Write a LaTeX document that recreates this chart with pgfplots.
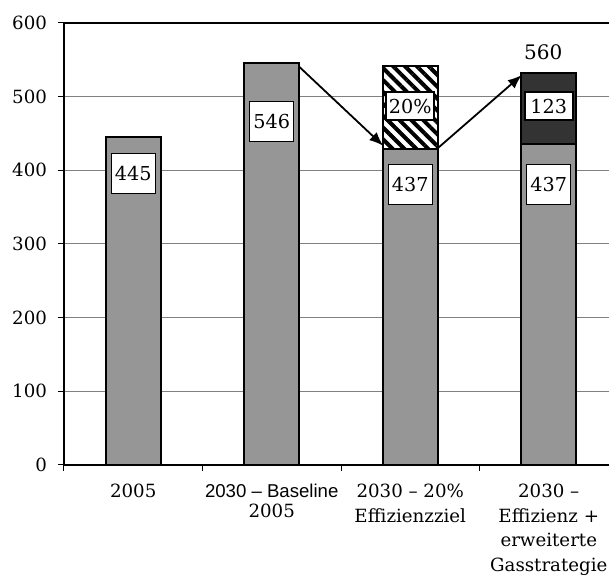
\documentclass[border=0pt]{standalone}
\usepackage{fontspec}
\setmainfont{DejaVu Serif}
\newfontfamily\arialf{Liberation Sans}
\usepackage{pgfplots}
\pgfplotsset{compat=1.18}
\usetikzlibrary{patterns.meta,arrows.meta}

\definecolor{barGrey}{HTML}{969696}
\definecolor{barDark}{HTML}{333333}
\definecolor{gridGrey}{HTML}{808080}

\begin{document}
\begin{tikzpicture}[
    lbl/.style={fill=white, draw=black, line width=0.5pt, inner sep=0pt,
        minimum width=22pt, minimum height=20pt, font=\fontsize{9.6}{11}\selectfont},
    lblb/.style={fill=white, draw=black, line width=1pt, inner sep=0pt,
        minimum width=24pt, minimum height=14pt, font=\fontsize{9.6}{11}\selectfont},
    arr/.style={-{Latex[length=7pt,width=5.5pt]}, line width=0.9pt},
]
\begin{axis}[
    name=ax,
    scale only axis,
    width=272.5pt, height=221pt,
    xmin=-0.5, xmax=3.435, ymin=0, ymax=600,
    axis x line=box, axis y line=left,
    axis line style={-, line width=1pt},
    xtick pos=bottom,
    tick align=outside,
    major tick length=3pt, minor tick length=3pt,
    ytick={0,100,...,600},
    ymajorgrids,
    grid style={gridGrey, line width=0.5pt},
    xtick={0,1,2,3},
    major x tick style={draw=none},
    minor xtick={-0.5,0.5,1.5,2.5},
    minor x tick style={black, line width=0.5pt},
    major y tick style={black, line width=0.5pt},
    xticklabels={
        {2005},
        {{\arialf\fontsize{9.3}{10}\selectfont 2030 – Baseline\\[-2.3pt]2005}},
        {2030 – 20\%\\Effizienzziel},
        {2030 –\\Effizienz +\\erweiterte\\Gasstrategie}},
    xticklabel style={align=center, font=\fontsize{9.1}{12.3}\selectfont, yshift=-3.2pt},
    yticklabel style={font=\fontsize{9.1}{11}\selectfont, xshift=-2pt},
    /pgf/number format/assume math mode=true,
]
% hatched top segment (20%) and dark top segment (123)
\addplot[ybar, bar width=0.4, bar shift=0pt, fill=white, draw=none] coordinates {(2,541)};
\addplot[ybar, bar width=0.4, bar shift=0pt, draw=black, line width=1pt,
    pattern={Lines[angle=-45, distance=4.2pt, line width=2pt]}, pattern color=black]
    coordinates {(2,541)};
\addplot[ybar, bar width=0.4, bar shift=0pt, fill=barDark, draw=black, line width=1pt]
    coordinates {(3,532)};
% base bars
\addplot[ybar, bar width=0.4, bar shift=0pt, fill=barGrey, draw=black, line width=1pt]
    coordinates {(0,445) (1,546) (2,428) (3,435)};

\draw[arr] (axis cs:1.2,540) -- (axis cs:1.805,433);
\draw[arr] (axis cs:2.2,430) -- (axis cs:2.805,529);

\node[lbl] at (axis cs:0,395) {445};
\node[lbl] at (axis cs:1,466) {546};
\node[lbl] at (axis cs:2,380) {437};
\node[lbl] at (axis cs:3,380) {437};
\node[lblb] at (axis cs:2,487) {20\%};
\node[lblb] at (axis cs:3,487) {123};
\node[font=\fontsize{10}{12}\selectfont] at (axis cs:2.96,560) {560};
\end{axis}
\pgfresetboundingbox
\path[use as bounding box] ([shift={(-32pt,232.4pt)}]ax.south west)
    rectangle ([shift={(272.5pt,-55.6pt)}]ax.south west);
\end{tikzpicture}
\end{document}
